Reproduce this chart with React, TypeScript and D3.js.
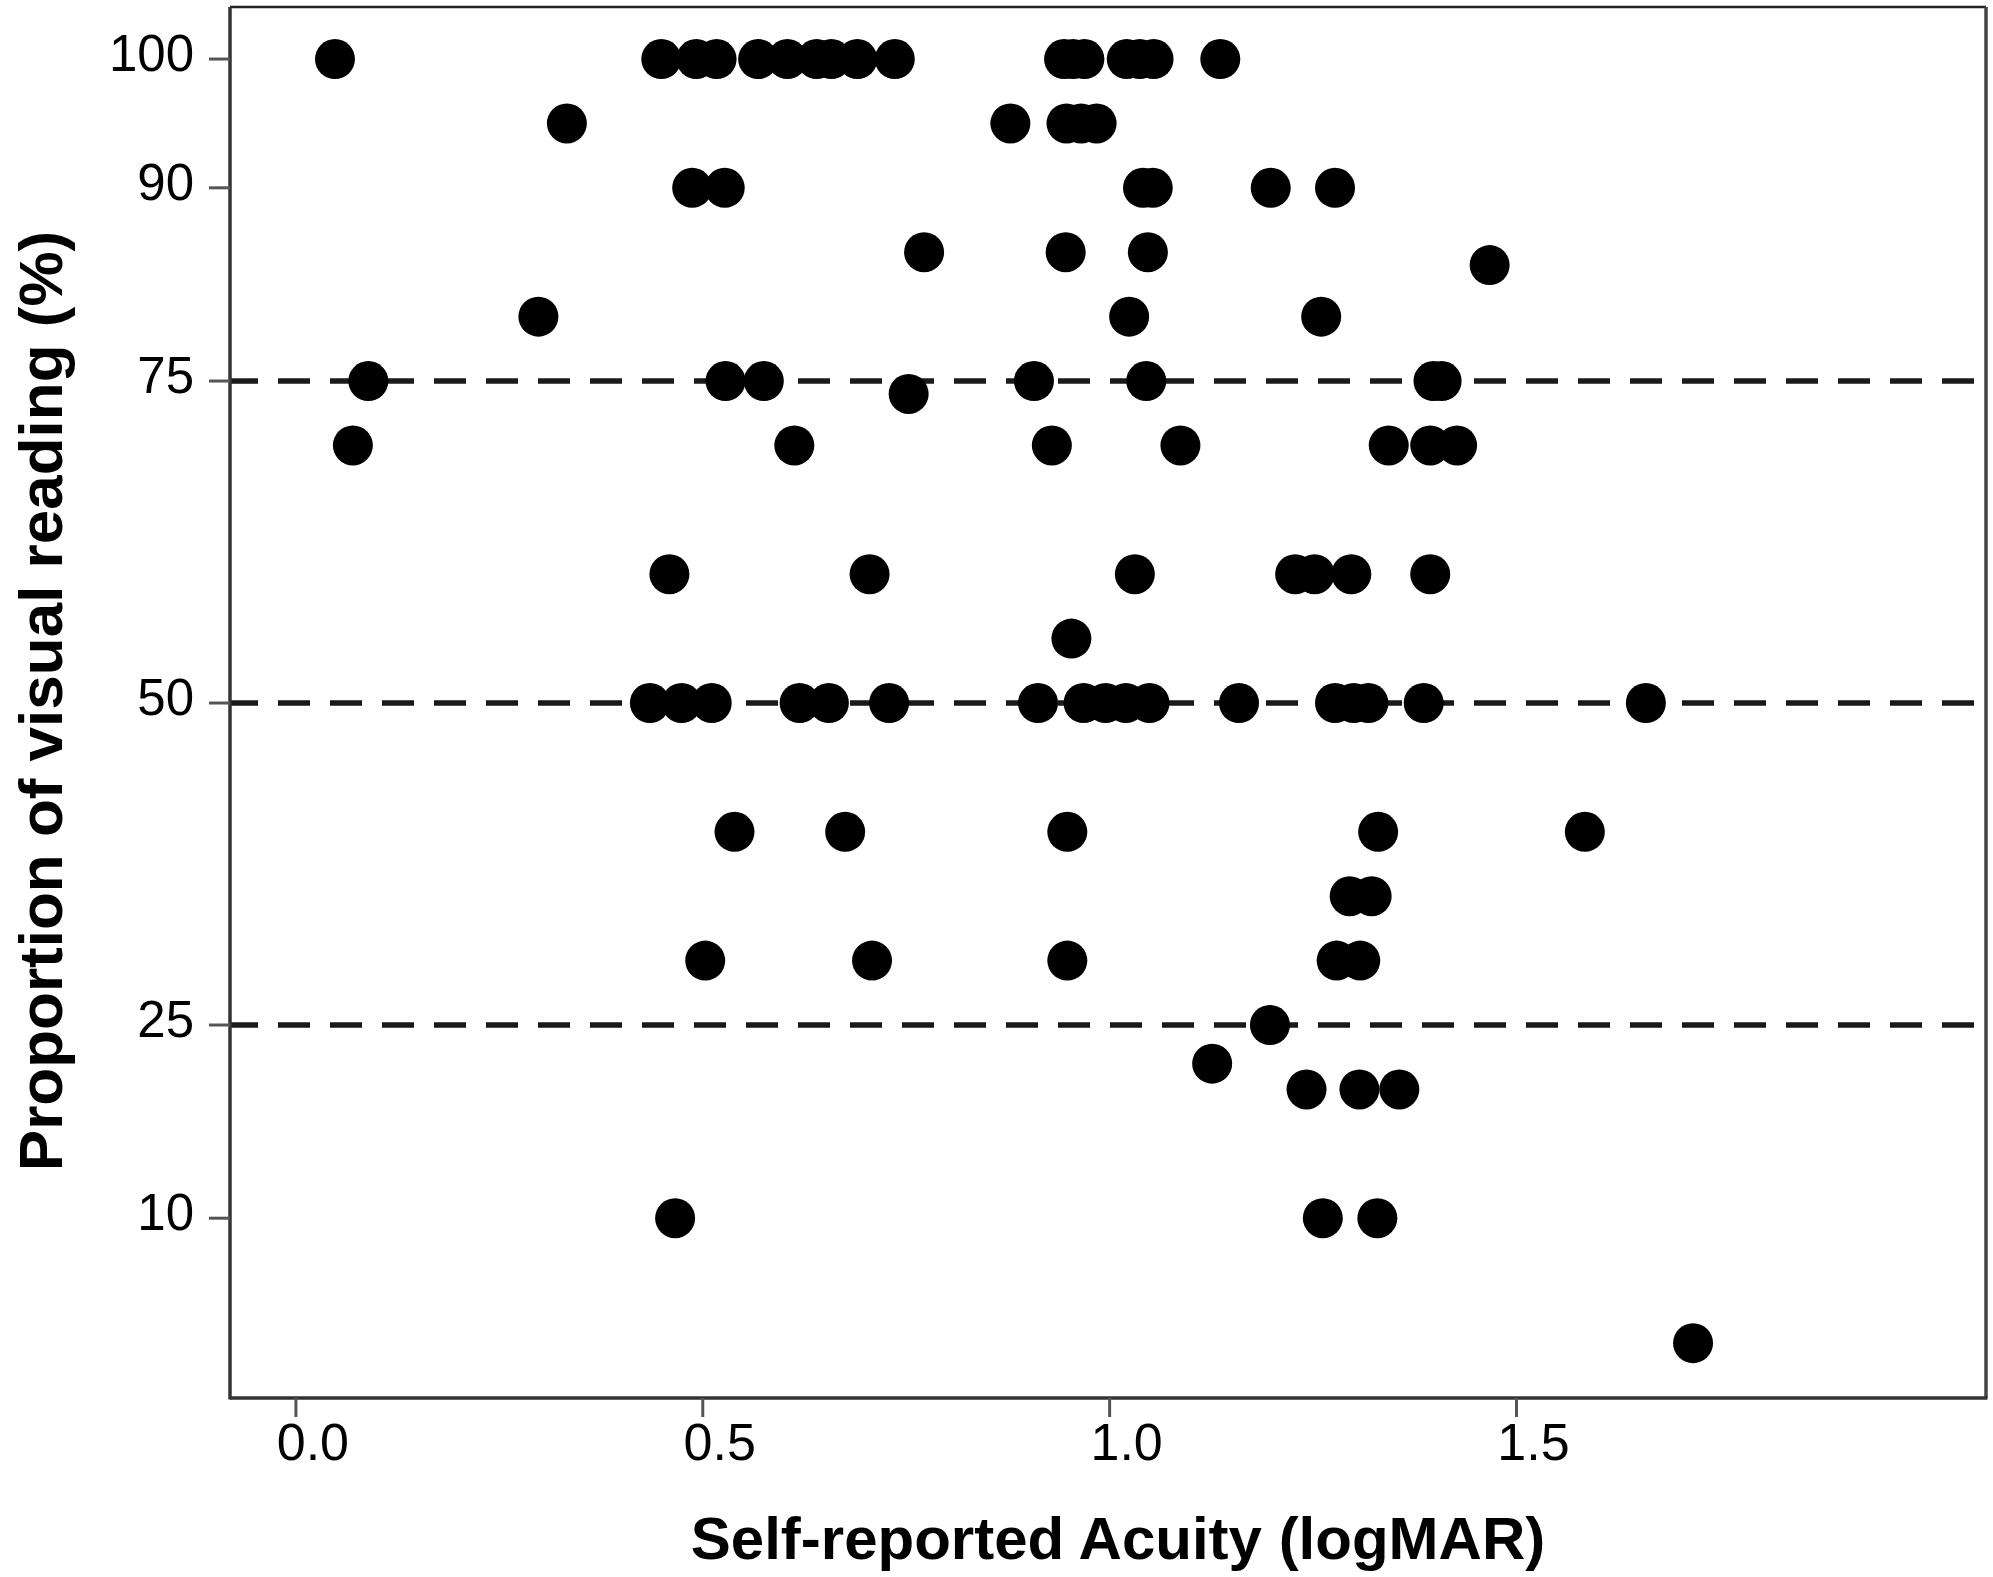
import * as d3 from 'd3';

// self-reported acuity (logMAR) and proportion of visual reading (%) per participant
const acuity = [
  0.048, 0.449, 0.492, 0.517, 0.568, 0.604, 0.64, 0.658, 0.69, 0.736, 0.944, 0.955, 0.969, 1.021, 1.037, 1.054, 1.136,
  0.333, 0.878, 0.947, 0.965, 0.984,
  0.487, 0.527, 1.041, 1.053, 1.198, 1.277,
  0.772, 0.946, 1.047, 1.467,
  0.298, 1.024, 1.26,
  0.089, 0.528, 0.575, 0.907, 1.045, 1.398, 1.408, 0.753,
  0.07, 0.6125, 0.929, 1.087, 1.343, 1.394, 1.427,
  0.459, 0.705, 1.031, 1.228, 1.252, 1.297, 1.394,
  0.953,
  0.435, 0.474, 0.511, 0.619, 0.655, 0.729, 0.912, 0.968, 0.995, 1.02, 1.049, 1.159, 1.277, 1.3, 1.318, 1.386, 1.659,
  0.539, 0.675, 0.948, 1.33, 1.584,
  1.295, 1.322,
  0.503, 0.708, 0.948, 1.279, 1.308,
  1.197, 1.126,
  1.242, 1.307, 1.356,
  0.466, 1.262, 1.329,
  1.717,
];

const visualReading = [
  100, 100, 100, 100, 100, 100, 100, 100, 100, 100, 100, 100, 100, 100, 100, 100, 100,
  95, 95, 95, 95, 95,
  90, 90, 90, 90, 90, 90,
  85, 85, 85, 84,
  80, 80, 80,
  75, 75, 75, 75, 75, 75, 75, 74,
  70, 70, 70, 70, 70, 70, 70,
  60, 60, 60, 60, 60, 60, 60,
  55,
  50, 50, 50, 50, 50, 50, 50, 50, 50, 50, 50, 50, 50, 50, 50, 50, 50,
  40, 40, 40, 40, 40,
  35, 35,
  30, 30, 30, 30, 30,
  25, 22,
  20, 20, 20,
  10, 10, 10,
  0.3,
];

const xTicks = [0, 0.5, 1.0, 1.5];
const yTicks = [100, 90, 75, 50, 25, 10];
const refLines = [75, 50, 25];

const W = 1993;
const H = 1577;
const left = 230;
const right = 1986;
const top = 7;
const bottom = 1398;

export default function App() {
  const x = d3.scaleLinear().domain([-0.081, 2.077]).range([left, right]);
  const y = d3.scaleLinear().domain([-3.96, 104.04]).range([bottom, top]);
  const points = acuity.map((a, i) => ({ a, v: visualReading[i] }));

  return (
    <svg
      width={W}
      height={H}
      style={{ position: 'absolute', left: 0, top: 0, background: '#fff' }}
      fontFamily="'Liberation Sans', Arial, sans-serif"
    >
      <rect x={0} y={0} width={W} height={H} fill="#fff" />

      {/* reference lines */}
      {refLines.map((r) => (
        <line
          key={r}
          x1={left}
          x2={right}
          y1={y(r)}
          y2={y(r)}
          stroke="#1a1a1a"
          strokeWidth={5.5}
          strokeDasharray="32 20"
          strokeDashoffset={4}
        />
      ))}

      {/* points */}
      {points.map((p, i) => (
        <circle key={i} cx={x(p.a)} cy={y(p.v)} r={20} fill="#000" />
      ))}

      {/* frame */}
      <line x1={left} x2={right} y1={top} y2={top} stroke="#222" strokeWidth={2.5} />
      <line x1={right} x2={right} y1={top} y2={bottom} stroke="#444" strokeWidth={3.5} />
      <line x1={left} x2={left} y1={top} y2={bottom + 1.5} stroke="#333" strokeWidth={3.5} />
      <line x1={left} x2={right + 1.5} y1={bottom} y2={bottom} stroke="#333" strokeWidth={3.5} />

      {/* y axis */}
      {yTicks.map((t) => (
        <g key={t}>
          <line x1={209} x2={left} y1={y(t)} y2={y(t)} stroke="#555" strokeWidth={3} />
          <text x={194} y={y(t) + 12} textAnchor="end" fontSize={51} fill="#000">
            {t}
          </text>
        </g>
      ))}

      {/* x axis */}
      {xTicks.map((t) => (
        <g key={t}>
          <line x1={x(t)} x2={x(t)} y1={bottom} y2={bottom + 19} stroke="#555" strokeWidth={3} />
          <text x={x(t) + 17} y={1460} textAnchor="middle" fontSize={52} fill="#000">
            {d3.format('.1f')(t)}
          </text>
        </g>
      ))}

      {/* axis titles */}
      <text x={1118} y={1559} textAnchor="middle" fontSize={60} fontWeight="bold" fill="#000">
        Self-reported Acuity (logMAR)
      </text>
      <text
        transform={`translate(62, 701) rotate(-90)`}
        textAnchor="middle"
        fontSize={62}
        fontWeight="bold"
        fill="#000"
      >
        Proportion of visual reading (%)
      </text>
    </svg>
  );
}
